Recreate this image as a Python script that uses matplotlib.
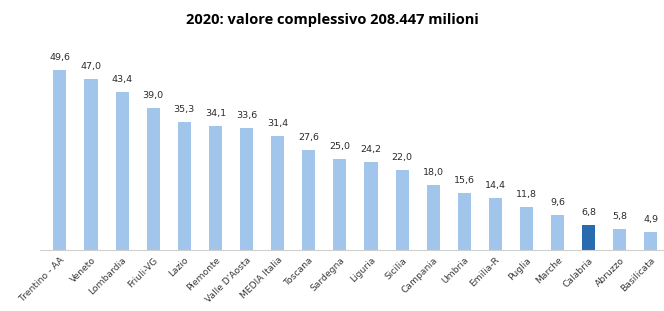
import numpy as np
import matplotlib.pyplot as plt

# dati regionali 2020
regioni = ['Trentino - AA', 'Veneto', 'Lombardia', 'Friuli-VG', 'Lazio', 'Piemonte',
           "Valle D'Aosta", 'MEDIA Italia', 'Toscana', 'Sardegna', 'Liguria', 'Sicilia',
           'Campania', 'Umbria', 'Emilia-R', 'Puglia', 'Marche', 'Calabria', 'Abruzzo',
           'Basilicata']
valori = [49.6, 47.0, 43.4, 39.0, 35.3, 34.1, 33.6, 31.4, 27.6, 25.0, 24.2, 22.0,
          18.0, 15.6, 14.4, 11.8, 9.6, 6.8, 5.8, 4.9]
evidenza = 'Calabria'

colori = ['#2A6BB0' if r == evidenza else '#A2C5EC' for r in regioni]

fig = plt.figure(figsize=(6.64, 3.11), dpi=100)
ax = fig.add_axes([40 / 664, 61 / 311, 624 / 664, 200 / 311])

x = np.arange(len(regioni))
ax.bar(x, valori, width=0.42, color=colori)

# etichette dei valori
for xi, v in zip(x, valori):
    ax.text(xi, v + 2.2, f'{v:.1f}'.replace('.', ','), ha='center', va='bottom',
            fontsize=6.8, color='#2b2b2b')

ax.set_xlim(-0.64, 19.42)
ax.set_ylim(0, 55)
ax.set_xticks(x)
ax.set_xticklabels(regioni, rotation=45, ha='right', rotation_mode='anchor',
                   fontsize=6.6, color='#3a3a3a')
ax.tick_params(axis='x', length=0, pad=4)
ax.set_yticks([])
for s in ['top', 'right', 'left']:
    ax.spines[s].set_visible(False)
ax.spines['bottom'].set_color('#D0D0D0')

fig.text(0.5, 0.935, '2020: valore complessivo 208.447 milioni', ha='center',
         va='center', fontsize=10.5, fontweight='bold', family='Open Sans')

plt.savefig('out.png', dpi=100)
